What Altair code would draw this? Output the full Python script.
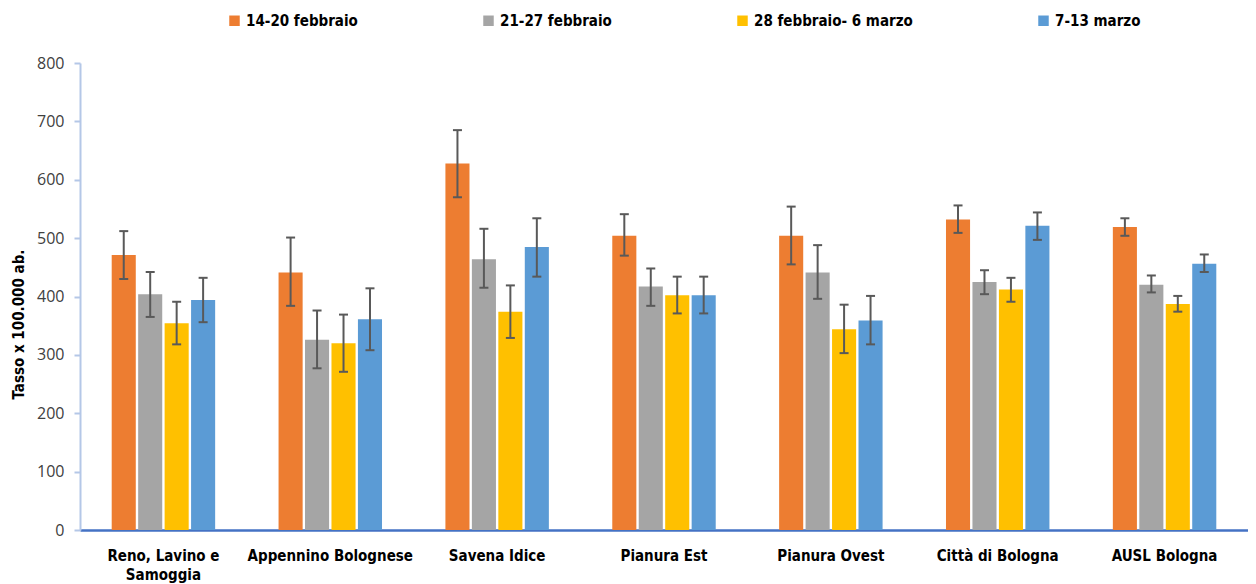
import altair as alt
import pandas as pd

categories = ["Reno, Lavino e Samoggia", "Appennino Bolognese", "Savena Idice",
              "Pianura Est", "Pianura Ovest", "Città di Bologna", "AUSL Bologna"]
series = ["14-20 febbraio", "21-27 febbraio", "28 febbraio- 6 marzo", "7-13 marzo"]
colors = ["#ED7D31", "#A5A5A5", "#FFC000", "#5B9BD5"]

s1 = [471, 441, 628, 504, 504, 532, 519]
s1_lo = [430, 384, 570, 470, 455, 509, 504]
s1_hi = [512, 501, 685, 541, 554, 556, 534]
s2 = [404, 326, 464, 417, 441, 425, 420]
s2_lo = [365, 277, 415, 384, 396, 404, 407]
s2_hi = [442, 376, 516, 448, 488, 445, 436]
s3 = [354, 320, 374, 402, 344, 412, 387]
s3_lo = [318, 271, 329, 371, 303, 391, 374]
s3_hi = [391, 369, 419, 434, 386, 432, 401]
s4 = [394, 361, 485, 402, 359, 521, 456]
s4_lo = [356, 308, 434, 371, 318, 497, 442]
s4_hi = [432, 414, 534, 434, 401, 544, 472]

vals = [s1, s2, s3, s4]
los = [s1_lo, s2_lo, s3_lo, s4_lo]
his = [s1_hi, s2_hi, s3_hi, s4_hi]

rows = []
for si, name in enumerate(series):
    for ci, cat in enumerate(categories):
        rows.append({"cat": cat, "serie": name, "v": vals[si][ci],
                     "lo": los[si][ci], "hi": his[si][ci]})
df = pd.DataFrame(rows)

bold_font = "DejaVu Sans Condensed, sans-serif"
num_font = "Open Sans, sans-serif"

x_enc = alt.X("cat:N", sort=categories,
              scale=alt.Scale(paddingInner=0.38, paddingOuter=0.19),
              axis=alt.Axis(title=None, labelAngle=0, ticks=False,
                            domainColor="#4472C4", domainWidth=2.5,
                            labelFont=bold_font, labelFontWeight="bold",
                            labelFontSize=15, labelColor="#000000",
                            labelPadding=18, labelLimit=300,
                            labelLineHeight=19,
                            labelExpr="datum.value == 'Reno, Lavino e Samoggia' ? ['Reno, Lavino e', 'Samoggia'] : datum.value"))
xo_enc = alt.XOffset("serie:N", sort=series,
                     scale=alt.Scale(paddingInner=0.09, paddingOuter=0))

y_scale = alt.Scale(domain=[0, 800], nice=False)

bars = alt.Chart(df).mark_bar().encode(
    x=x_enc,
    xOffset=xo_enc,
    y=alt.Y("v:Q", scale=y_scale,
            axis=alt.Axis(title="Tasso x 100.000 ab.", values=[0, 100, 200, 300, 400, 500, 600, 700, 800],
                          grid=False, domainColor="#B4C7E7", domainWidth=2,
                          tickColor="#B4C7E7", tickWidth=2, tickSize=6,
                          labelFont=num_font, labelFontSize=16, labelColor="#404040",
                          labelPadding=10,
                          titleFont=bold_font, titleFontWeight="bold", titleFontSize=15,
                          titleColor="#000000", titleAngle=-90, titleAlign="center",
                          titleBaseline="middle", titleX=-62, titleY=261)),
    color=alt.Color("serie:N", sort=series,
                    scale=alt.Scale(domain=series, range=colors),
                    legend=alt.Legend(title=None, orient="none", direction="horizontal",
                                      columns=4, legendX=147, legendY=-50,
                                      symbolType="square", symbolSize=110,
                                      symbolStrokeWidth=0, labelOffset=4,
                                      columnPadding=123,
                                      labelFont=bold_font, labelFontWeight="bold",
                                      labelFontSize=15, labelColor="#000000",
                                      labelLimit=300)),
)

err = alt.Chart(df).mark_rule(color="#595959", strokeWidth=2).encode(
    x=alt.X("cat:N", sort=categories),
    xOffset=alt.XOffset("serie:N", sort=series),
    y=alt.Y("lo:Q", scale=y_scale),
    y2="hi:Q",
)

cap_lo = alt.Chart(df).mark_tick(color="#595959", thickness=2, size=9, opacity=1).encode(
    x=alt.X("cat:N", sort=categories),
    xOffset=alt.XOffset("serie:N", sort=series),
    y=alt.Y("lo:Q", scale=y_scale),
)
cap_hi = alt.Chart(df).mark_tick(color="#595959", thickness=2, size=9, opacity=1).encode(
    x=alt.X("cat:N", sort=categories),
    xOffset=alt.XOffset("serie:N", sort=series),
    y=alt.Y("hi:Q", scale=y_scale),
)

chart = alt.layer(bars, err, cap_lo, cap_hi).properties(
    width=1168, height=467,
    background="white",
    autosize=alt.AutoSizeParams(type="none"),
    padding={"left": 72, "top": 55, "right": 0, "bottom": 54},
).configure_view(strokeWidth=0, stroke="transparent")

chart.save("out.html", embed_options={"renderer": "svg", "actions": False})
